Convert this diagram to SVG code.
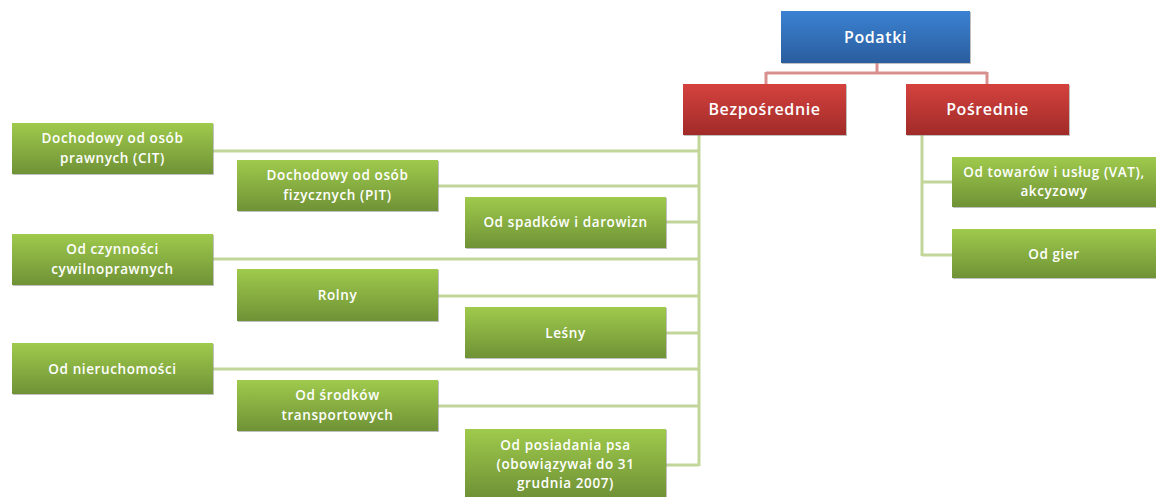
<svg xmlns="http://www.w3.org/2000/svg" width="1156" height="497" viewBox="0 0 1156 497">
<defs>
<linearGradient id="gG" x1="0" y1="0" x2="0" y2="1">
<stop offset="0" stop-color="#9fca4c"/><stop offset="1" stop-color="#6f9236"/>
</linearGradient>
<linearGradient id="gR" x1="0" y1="0" x2="0" y2="1">
<stop offset="0" stop-color="#d5423e"/><stop offset="1" stop-color="#a02b28"/>
</linearGradient>
<linearGradient id="gB" x1="0" y1="0" x2="0" y2="1">
<stop offset="0" stop-color="#3b82d2"/><stop offset="1" stop-color="#2a5d9e"/>
</linearGradient>
</defs>
<style>
.g{fill:url(#gG)}
.r{fill:url(#gR)}
.b{fill:url(#gB)}
.sh{fill:#8c8c8c;opacity:0.55}
.t{fill:#ffffff;font-family:"Open Sans","Liberation Sans",sans-serif;font-size:13.5px;font-weight:600;text-anchor:middle;letter-spacing:0.6px}
.tb{font-size:16px}
.cg{stroke:#c2d69a;stroke-width:3;fill:none}
.cr{stroke:#d88f8d;stroke-width:3;fill:none}
</style>
<rect width="1156" height="497" fill="#ffffff"/>
<g id="connectors">
<path class="cr" d="M877 63V73M766 73H987M766 72V84M987 72V84"/>
<path class="cg" d="M699 135V466"/>
<path class="cg" d="M213 151H699M437 186H699M665 222H699M213 259H699M437 296H699M665 333H699M213 369H699M437 406H699M665 465H699"/>
<path class="cg" d="M922 135V256M922 182H952M922 255H952"/>
</g>
<g id="podatki"><rect class="sh" x="782" y="12" width="189" height="52"/><rect class="b" x="781" y="11" width="189" height="52"/><text class="t tb" x="875.5" y="43">Podatki</text></g>
<g id="bezposrednie"><rect class="sh" x="684" y="85" width="163" height="51"/><rect class="r" x="683" y="84" width="163" height="51"/><text class="t tb" x="764.5" y="115">Bezpośrednie</text></g>
<g id="posrednie"><rect class="sh" x="907" y="85" width="163" height="51"/><rect class="r" x="906" y="84" width="163" height="51"/><text class="t tb" x="987.5" y="115">Pośrednie</text></g>
<g id="cit"><rect class="sh" x="13" y="124" width="201" height="51"/><rect class="g" x="12" y="123" width="201" height="51"/><text class="t" x="112.5" y="143">Dochodowy od osób</text><text class="t" x="112.5" y="163">prawnych (CIT)</text></g>
<g id="pit"><rect class="sh" x="238" y="161" width="201" height="51"/><rect class="g" x="237" y="160" width="201" height="51"/><text class="t" x="337.5" y="180">Dochodowy od osób</text><text class="t" x="337.5" y="200">fizycznych (PIT)</text></g>
<g id="spadki"><rect class="sh" x="466" y="198" width="201" height="51"/><rect class="g" x="465" y="197" width="201" height="51"/><text class="t" x="565.5" y="227">Od spadków i darowizn</text></g>
<g id="czynnosci"><rect class="sh" x="13" y="235" width="201" height="51"/><rect class="g" x="12" y="234" width="201" height="51"/><text class="t" x="112.5" y="254">Od czynności</text><text class="t" x="112.5" y="274">cywilnoprawnych</text></g>
<g id="rolny"><rect class="sh" x="238" y="270" width="201" height="52"/><rect class="g" x="237" y="269" width="201" height="52"/><text class="t" x="337.5" y="300">Rolny</text></g>
<g id="lesny"><rect class="sh" x="466" y="308" width="201" height="51"/><rect class="g" x="465" y="307" width="201" height="51"/><text class="t" x="565.5" y="338">Leśny</text></g>
<g id="nieruchomosci"><rect class="sh" x="13" y="344" width="201" height="51"/><rect class="g" x="12" y="343" width="201" height="51"/><text class="t" x="112.5" y="374">Od nieruchomości</text></g>
<g id="srodki"><rect class="sh" x="238" y="381" width="201" height="51"/><rect class="g" x="237" y="380" width="201" height="51"/><text class="t" x="337.5" y="400">Od środków</text><text class="t" x="337.5" y="420">transportowych</text></g>
<g id="pies"><rect class="sh" x="466" y="430" width="201" height="68"/><rect class="g" x="465" y="429" width="201" height="68"/><text class="t" x="565.5" y="450">Od posiadania psa</text><text class="t" x="565.5" y="469">(obowiązywał do 31</text><text class="t" x="565.5" y="488">grudnia 2007)</text></g>
<g id="vat"><rect class="sh" x="953" y="158" width="204" height="50"/><rect class="g" x="952" y="157" width="204" height="50"/><text class="t" x="1054" y="177">Od towarów i usług (VAT),</text><text class="t" x="1054" y="196">akcyzowy</text></g>
<g id="gry"><rect class="sh" x="953" y="230" width="204" height="49"/><rect class="g" x="952" y="229" width="204" height="49"/><text class="t" x="1054" y="259">Od gier</text></g>
</svg>
